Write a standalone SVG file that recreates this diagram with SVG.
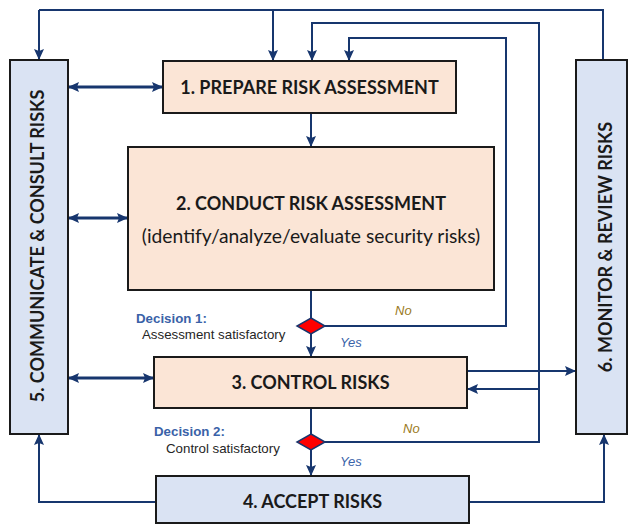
<svg xmlns="http://www.w3.org/2000/svg" width="629" height="527" viewBox="0 0 629 527">
<style>
.box{stroke:#1a1a1a;stroke-width:2}
.peach{fill:#fbe5d6}
.blue{fill:#dae3f3}
.t{font-family:Lato,"Liberation Sans",sans-serif;font-weight:bold;font-size:18px;fill:#1a1a1a;text-anchor:middle}
.tr{font-family:Lato,"Liberation Sans",sans-serif;font-size:19.3px;fill:#1a1a1a;text-anchor:middle}
.ln{fill:none;stroke:#17366e;stroke-width:2}
.dl{fill:none;stroke:#17366e;stroke-width:3}
.dia{fill:#ff0000;stroke:#17366e;stroke-width:1.5}
.dec{font-family:"Liberation Sans",Arial,sans-serif;font-weight:bold;font-size:13.3px;fill:#3a62a8}
.sm{font-family:"Liberation Sans",Arial,sans-serif;font-size:13.3px;fill:#262626}
.no{font-family:"Liberation Sans",Arial,sans-serif;font-style:italic;font-size:13px;fill:#9a7a1c}
.yes{font-family:"Liberation Sans",Arial,sans-serif;font-style:italic;font-size:13px;fill:#3a62a8}
</style>
<defs>
<marker id="a" markerUnits="userSpaceOnUse" markerWidth="11" markerHeight="10" viewBox="0 0 11 10" refX="11" refY="5" orient="auto-start-reverse">
<path d="M0,0 L11,5 L0,10 L2,5 z" fill="#17366e"/>
</marker>
</defs>
<g id="connectors">
<path class="ln" d="M39,10 H603 V60"/>
<path class="ln" d="M39,10 V60" marker-end="url(#a)"/>
<path class="ln" d="M273,10 V61" marker-end="url(#a)"/>
<path class="ln" d="M311,113 V147" marker-end="url(#a)"/>
<path class="ln" d="M311,290 V318"/>
<path class="ln" d="M311,334 V357" marker-end="url(#a)"/>
<path class="ln" d="M311,408 V434"/>
<path class="ln" d="M311,450 V476" marker-end="url(#a)"/>
<path class="ln" d="M325,326 H506 V38 H349 V61" marker-end="url(#a)"/>
<path class="ln" d="M325,442 H539 V23 H312 V61" marker-end="url(#a)"/>
<path class="ln" d="M539,389 H467" marker-end="url(#a)"/>
<path class="ln" d="M467,371 H576" marker-end="url(#a)"/>
<path class="ln" d="M469,502 H604 V434" marker-end="url(#a)"/>
<path class="ln" d="M156,502 H39 V434" marker-end="url(#a)"/>
<path class="dl" d="M68,87 H163" marker-start="url(#a)" marker-end="url(#a)"/>
<path class="dl" d="M68,218 H128" marker-start="url(#a)" marker-end="url(#a)"/>
<path class="dl" d="M68,378 H154" marker-start="url(#a)" marker-end="url(#a)"/>
</g>
<g id="node5">
<rect class="box blue" x="10" y="60" width="58" height="374"/>
<text class="t" transform="translate(44,246) rotate(-90)">5. COMMUNICATE &amp; CONSULT RISKS</text>
</g>
<g id="node6">
<rect class="box blue" x="576" y="60" width="51" height="374"/>
<text class="t" transform="translate(612,247) rotate(-90)">6. MONITOR &amp; REVIEW RISKS</text>
</g>
<g id="node1">
<rect class="box peach" x="163" y="61" width="293" height="52"/>
<text class="t" x="309.5" y="94">1. PREPARE RISK ASSESSMENT</text>
</g>
<g id="node2">
<rect class="box peach" x="128" y="147" width="366" height="143"/>
<text class="t" x="311" y="210">2. CONDUCT RISK ASSESSMENT</text>
<text class="tr" x="311" y="243">(identify/analyze/evaluate security risks)</text>
</g>
<g id="node3">
<rect class="box peach" x="154" y="357" width="313" height="51"/>
<text class="t" x="310.5" y="389">3. CONTROL RISKS</text>
</g>
<g id="node4">
<rect class="box blue" x="156" y="476" width="313" height="47"/>
<text class="t" x="312.5" y="508">4. ACCEPT RISKS</text>
</g>
<g id="decision1">
<polygon class="dia" points="311,318 325,326 311,334 297,326"/>
<text class="dec" x="136" y="323">Decision 1:</text>
<text class="sm" x="142" y="339">Assessment satisfactory</text>
<text class="no" x="395" y="315">No</text>
<text class="yes" x="340" y="347">Yes</text>
</g>
<g id="decision2">
<polygon class="dia" points="311,434 325,442 311,450 297,442"/>
<text class="dec" x="154" y="436">Decision 2:</text>
<text class="sm" x="166" y="453">Control satisfactory</text>
<text class="no" x="403" y="433">No</text>
<text class="yes" x="340" y="466">Yes</text>
</g>
</svg>
